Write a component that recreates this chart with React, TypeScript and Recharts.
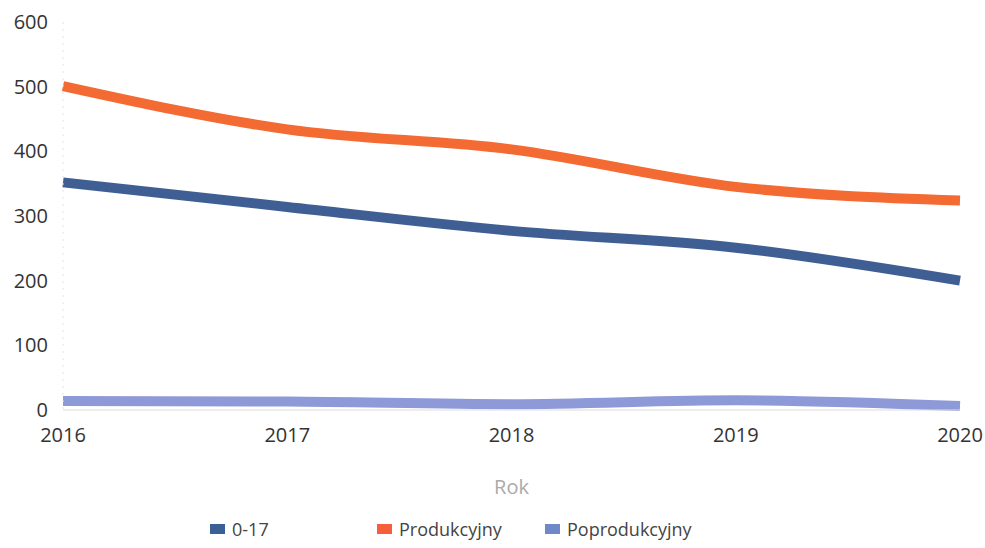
import React from 'react'
import { LineChart, Line, XAxis, YAxis, Legend } from 'recharts'

const years = ['2016', '2017', '2018', '2019', '2020']
const dzieci = [352, 314, 277, 251, 200]
const produkcyjny = [501, 434, 403, 345, 324]
const poprodukcyjny = [14, 13, 9, 15, 6]
const yTicks = [0, 100, 200, 300, 400, 500, 600]

const series = [
    { key: '0-17', color: '#3f5f94', legend: '#3a6096' },
    { key: 'Produkcyjny', color: '#f36a32', legend: '#f5603a' },
    { key: 'Poprodukcyjny', color: '#8e9ad8', legend: '#6f88c8' },
]

const data = years.map((year, i) => ({
    year,
    '0-17': dzieci[i],
    Produkcyjny: produkcyjny[i],
    Poprodukcyjny: poprodukcyjny[i],
}))

const font = '"Open Sans", "Noto Sans", sans-serif'

const LegendBox = () => (
    <div style={{ display: 'flex', paddingLeft: 202, paddingTop: 10, height: 22, lineHeight: '22px', fontFamily: font, fontSize: 18, color: '#444' }}>
        {series.map((s, i) => (
            <div key={s.key} style={{ display: 'flex', alignItems: 'center', width: i === 0 ? 167 : 168 }}>
                <div style={{ width: 15, height: 10, background: s.legend, marginRight: 7 }}></div>
                <span>{s.key}</span>
            </div>
        ))}
    </div>
)

export default function App() {
    return (
        <div style={{ width: 985, height: 548, background: '#fff', overflow: 'hidden' }}>
            <style>{'body{margin:0;overflow:hidden}'}</style>
            <LineChart width={985} height={548} data={data} margin={{ top: 22, right: 25, left: 8, bottom: 8 }}>
                <XAxis
                    dataKey="year"
                    height={98}
                    tickLine={false}
                    tickMargin={12}
                    axisLine={{ stroke: '#dcdcdc' }}
                    tick={{ fill: '#333', fontSize: 20, fontFamily: font }}
                    label={{ value: 'Rok', position: 'insideTop', offset: 70, fill: '#aaa', fontSize: 20, fontFamily: font }}
                />
                <YAxis
                    width={55}
                    domain={[0, 600]}
                    ticks={yTicks}
                    tickLine={false}
                    tickMargin={9}
                    axisLine={{ stroke: '#e4e4e4', strokeDasharray: '2 5' }}
                    tick={{ fill: '#333', fontSize: 20, fontFamily: font }}
                />
                <Legend verticalAlign="bottom" height={32} content={() => <LegendBox />} />
                {series.map(s => (
                    <Line
                        key={s.key}
                        type="monotone"
                        dataKey={s.key}
                        stroke={s.color}
                        strokeWidth={10}
                        dot={false}
                        activeDot={false}
                        isAnimationActive={false}
                    />
                ))}
            </LineChart>
        </div>
    )
}
